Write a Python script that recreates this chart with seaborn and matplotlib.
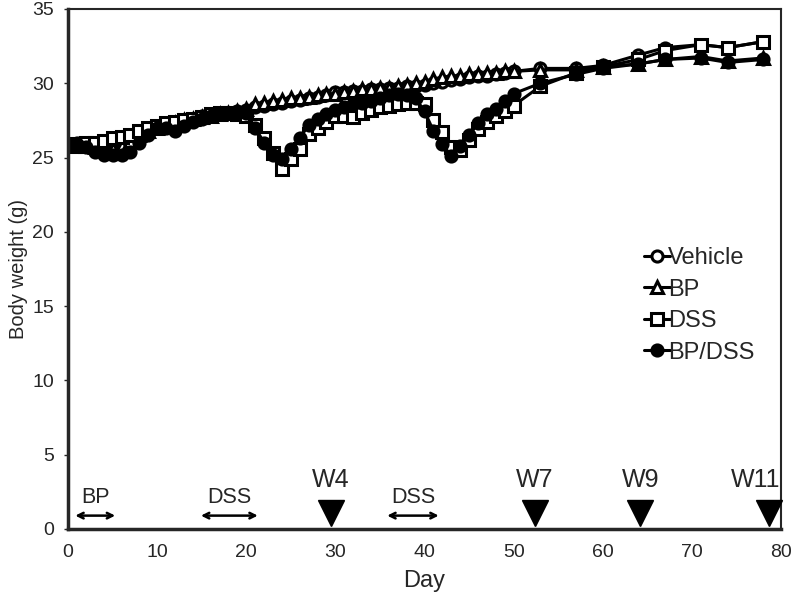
import seaborn as sns
import pandas as pd
import matplotlib.pyplot as plt

# measurement days: daily up to day 50, then roughly twice a week
days = list(range(1, 51)) + [53, 57, 60, 64, 67, 71, 74, 78]

vehicle = [26.0, 26.0, 25.9, 25.9, 26.0, 26.2, 26.4, 26.7, 26.9, 27.1,
           27.2, 27.4, 27.5, 27.6, 27.8, 27.9, 28.0, 28.0, 28.1, 28.2,
           28.4, 28.5, 28.6, 28.7, 28.8, 28.9, 29.0, 29.1, 29.2, 29.4,
           29.4, 29.5, 29.5, 29.6, 29.6, 29.7, 29.7, 29.8, 29.8, 29.9,
           30.0, 30.1, 30.2, 30.3, 30.4, 30.5, 30.5, 30.6, 30.7, 30.8,
           31.0, 31.0, 31.2, 31.9, 32.4, 32.6, 32.4, 32.8]
bp = [25.8, 25.8, 25.7, 25.6, 25.6, 25.8, 26.1, 26.5, 26.8, 27.0,
      27.2, 27.3, 27.5, 27.6, 27.7, 27.8, 27.9, 28.0, 28.1, 28.3,
      28.6, 28.7, 28.8, 28.9, 29.0, 29.0, 29.1, 29.2, 29.3, 29.3,
      29.4, 29.5, 29.6, 29.6, 29.7, 29.7, 29.8, 29.9, 30.0, 30.1,
      30.3, 30.4, 30.5, 30.5, 30.6, 30.6, 30.7, 30.7, 30.8, 30.8,
      30.9, 30.9, 31.1, 31.3, 31.6, 31.8, 31.5, 31.7]
dss = [25.9, 26.0, 26.0, 26.1, 26.3, 26.4, 26.5, 26.8, 27.0, 27.1,
       27.3, 27.4, 27.5, 27.6, 27.7, 27.9, 28.0, 28.0, 27.9, 27.8,
       27.2, 26.3, 25.3, 24.2, 24.9, 25.6, 26.6, 27.0, 27.4, 27.8,
       27.8, 27.7, 28.0, 28.2, 28.4, 28.5, 28.6, 28.7, 28.7, 28.6,
       27.5, 26.7, 25.7, 25.5, 26.2, 26.9, 27.4, 27.8, 28.1, 28.5,
       29.8, 30.7, 31.1, 31.6, 32.2, 32.6, 32.4, 32.8]
bp_dss = [25.9, 25.7, 25.4, 25.2, 25.2, 25.2, 25.4, 26.0, 26.5, 27.0,
          27.0, 26.8, 27.1, 27.4, 27.6, 27.8, 27.9, 28.0, 28.0, 28.0,
          27.0, 26.0, 25.2, 24.9, 25.6, 26.3, 27.2, 27.6, 27.9, 28.2,
          28.4, 28.6, 28.7, 28.8, 29.0, 29.2, 29.3, 29.2, 29.0, 28.1,
          26.8, 25.9, 25.1, 25.8, 26.5, 27.3, 27.9, 28.3, 28.8, 29.3,
          30.0, 30.6, 31.0, 31.3, 31.6, 31.7, 31.4, 31.6]

groups = ['Vehicle', 'BP', 'DSS', 'BP/DSS']

# treatment periods (start, end) and week markers
periods = [('BP', 0.5, 5.6), ('DSS', 14.6, 21.6), ('DSS', 35.5, 41.9)]
week_days = [29.5, 52.4, 64.2, 78.7]
week_labels = ['W4', 'W7', 'W9', 'W11']

df = pd.DataFrame({'Day': days * 4,
                   'Weight': vehicle + bp + dss + bp_dss,
                   'Group': [g for g in groups for _ in days]})

sns.set_style('ticks')
plt.rcParams['font.family'] = ['Liberation Sans', 'DejaVu Sans']

fig = plt.figure(figsize=(7.93, 5.98), dpi=100)
ax = fig.add_axes([0.0858, 0.1154, 0.8991, 0.8696])

styles = {'Vehicle': ('o', 'white'), 'BP': ('^', 'white'),
          'DSS': ('s', 'white'), 'BP/DSS': ('o', 'black')}
for g in groups:
    m, fc = styles[g]
    sns.lineplot(data=df[df['Group'] == g], x='Day', y='Weight', ax=ax,
                 color='black', lw=2.2, marker=m, mfc=fc, mec='black',
                 mew=2.2, ms=8, label=g)

# treatment arrows
for name, x0, x1 in periods:
    ax.annotate('', xy=(x0, 0.9), xytext=(x1, 0.9),
                arrowprops=dict(arrowstyle='<->', color='black', lw=1.8))
    ax.text((x0 + x1) / 2, 1.4, name, ha='center', va='bottom', fontsize=15.5)

# week markers
ax.plot(week_days, [1.1] * len(week_days), 'v', color='black', ms=19,
        clip_on=False, zorder=5)
for d, lab in zip(week_days, week_labels):
    ax.text(d - (1.6 if lab == 'W11' else 0), 2.5, lab, ha='center',
            va='bottom', fontsize=18)

ax.set_xlim(0, 80)
ax.set_ylim(0, 35)
ax.set_xticks(range(0, 81, 10))
ax.set_yticks(range(0, 36, 5))
ax.tick_params(axis='x', length=0, pad=11, labelsize=14)
ax.tick_params(axis='y', length=3, width=1, pad=7, labelsize=14)
ax.set_xlabel('Day', fontsize=17, labelpad=6)
ax.set_ylabel('Body weight (g)', fontsize=14.5, labelpad=3)

for side in ['left', 'bottom']:
    ax.spines[side].set_linewidth(2.5)
for side in ['top', 'right']:
    ax.spines[side].set_linewidth(1.5)

ax.legend(loc='upper left', bbox_to_anchor=(0.795, 0.56), frameon=False,
          fontsize=17, handlelength=1.1, handletextpad=-0.1,
          labelspacing=0.4, borderaxespad=0)

fig.savefig('out.png', dpi=100)
